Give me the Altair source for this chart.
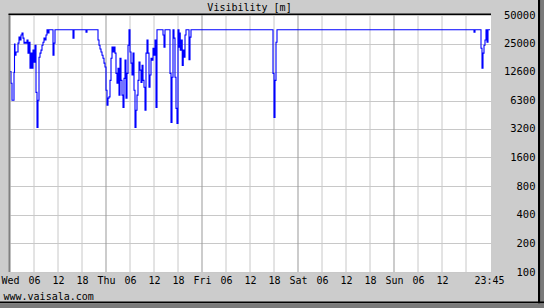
import altair as alt
import pandas as pd

# hours since Wed 00:00, visibility in metres (step series)
hours = [0, 0.25, 0.5, 1.0, 1.125, 1.25, 1.5, 2.0, 2.25, 2.5, 2.75, 3.0, 3.25, 3.5, 3.75,
         4.0, 4.25, 4.5, 4.75, 5.0, 5.25, 5.5, 5.75, 6.0, 6.25, 6.5, 6.75, 7.0, 7.25, 7.5,
         7.75, 8.0, 8.25, 8.5, 8.75, 9.0, 9.25, 9.5, 9.75, 10.75, 11.0, 11.25,
         15.75, 16.0, 19.0, 19.25,
         22.0, 22.25, 22.5, 22.75, 23.0, 23.25, 23.5, 23.75, 24.0, 24.25, 24.5, 24.75,
         25.0, 25.25, 25.5, 25.75, 26.0, 26.25, 26.5, 26.75, 27.0, 27.25, 27.5, 27.75,
         28.0, 28.25, 28.5, 28.75, 29.0, 29.25, 29.5, 29.75, 30.0, 30.25, 30.5, 30.75,
         31.0, 31.25, 31.5, 31.75, 32.0, 32.25, 32.5, 32.75, 33.0, 33.25, 33.5, 33.75,
         34.0, 34.25, 34.5, 34.75, 35.0, 35.25, 35.5, 35.75, 36.0, 36.25, 36.5, 36.75,
         38.25, 38.5, 38.75,
         40.0, 40.25, 40.5, 40.75, 41.0, 41.25, 41.5, 41.75, 42.0,
         42.25, 42.44, 42.56, 42.81, 43.06, 43.31, 43.5, 43.75, 44.0,
         44.75, 45.0, 45.25,
         65.75, 66.0, 66.25, 66.5, 66.75,
         116.0, 116.25,
         117.75, 118.0, 118.25, 118.5, 118.75, 119.0, 119.25, 119.5, 119.75, 120.0]
visibility = [12700, 9600, 6360, 12500, 24700, 18900, 20400, 25300, 29300, 27300, 30800, 32300, 28600, 25300, 25900,
              25300, 27300, 19900, 25900, 13800, 19900, 13800, 21400, 16000, 24100, 7700, 3300, 6360, 18000, 19900,
              21400, 24100, 25900, 28600, 27300, 30800, 35000, 32300, 35000, 18900, 25300, 35000,
              28600, 35000, 33000, 35000,
              27300, 24100, 22000, 20400, 18900, 17600, 15600, 14200, 8100, 5630, 6700, 6900,
              10300, 17600, 23000, 20400, 23000, 19900, 12200, 9600, 13800, 7200, 17600, 10300,
              7200, 5360, 10800, 16800, 6700, 12200, 24100, 35000, 20400, 15600, 11700, 19900,
              8100, 3300, 4990, 7200, 10300, 16000, 13200, 9800, 14800, 10300, 8700, 4990,
              19900, 27300, 19900, 8700, 11700, 17600, 16800, 22400, 18900, 27300, 5360, 35000,
              30800, 23000, 35000,
              12200, 3720, 11100, 35000, 28600, 11100, 5230, 3640, 35000,
              23000, 32300, 21400, 27300, 14800, 21400, 18000, 30800, 35000,
              17000, 29300, 35000,
              12200, 4210, 10300, 25900, 35000,
              33000, 35000,
              22400, 13800, 19900, 24100, 27300, 35000, 25900, 35000, 35000, 35000]

tick_hours = [0, 6, 12, 18, 24, 30, 36, 42, 48, 54, 60, 66, 72, 78, 84, 90, 96, 102, 108, 119.75]
tick_labels = ["Wed", "06", "12", "18", "Thu", "06", "12", "18", "Fri", "06", "12", "18",
               "Sat", "06", "12", "18", "Sun", "06", "12", "23:45"]
grid_hours = [6, 12, 18, 30, 36, 42, 54, 60, 66, 78, 84, 90, 102, 108, 114]
day_hours = [24, 48, 72, 96]
y_ticks = [100, 200, 400, 800, 1600, 3200, 6300, 12600, 25000, 50000]
title_text = "Visibility [m]"
footer_text = "www.vaisala.com"

MONO = "DejaVu Sans Mono"
W, H = 481, 257

df = pd.DataFrame({"h": hours, "v": visibility})

label_expr = ("[" + ",".join(f"'{l}'" for l in tick_labels) + "][indexof(["
              + ",".join(str(h) for h in tick_hours) + "], datum.value)]")

xs = alt.Scale(domain=[0, 120.25], nice=False, zero=False)
ys = alt.Scale(type="log", domain=[100, 50000], nice=False)

x_axis = alt.Axis(values=tick_hours, labelExpr=label_expr, grid=False, domain=False, ticks=False,
                  labelPadding=3, labelFlush=False, labelOverlap=False, labelFont=MONO,
                  labelFontSize=10, labelColor="black",
                  title=footer_text, titleX=-7, titleY=27, titleAlign="left",
                  titleBaseline="alphabetic", titleFont=MONO, titleFontSize=10,
                  titleFontWeight="normal", titleColor="black")
x_enc = alt.X("h:Q", scale=xs, axis=x_axis)

grid_light = alt.Chart(pd.DataFrame({"h": grid_hours})).mark_rule(
    color="#c8c8c8", strokeWidth=1).encode(x=x_enc)
grid_day = alt.Chart(pd.DataFrame({"h": day_hours})).mark_rule(
    color="#999999", strokeWidth=1).encode(x=x_enc)

line = alt.Chart(df).mark_line(interpolate="step-after", color="#0000ff",
                               strokeWidth=1.1, clip=True).encode(
    x=x_enc,
    y=alt.Y("v:Q", scale=ys,
            axis=alt.Axis(orient="right", values=y_ticks, format="d", grid=True,
                          gridColor="#c8c8c8", gridWidth=1, domain=False, ticks=False,
                          labelPadding=44, labelAlign="right", labelFont=MONO,
                          labelFontSize=10.5, labelColor="black", title=None)),
)

one = alt.Data(values=[{}])


def box(color, x, x2, y, y2):
    return alt.Chart(one).mark_rect(color=color).encode(
        x=alt.value(x), x2=alt.value(x2), y=alt.value(y), y2=alt.value(y2))


frame_left = box("#808080", -1.5, 0.5, -1, H)
frame_top = box("#000000", -1.5, W, -1.5, 0)
shadow_r1 = box("#000000", 528, 530.5, -15, 293)
shadow_r2 = box("#7a7a7a", 530.5, 534, -15, 293)
shadow_b1 = box("#000000", -10, 534, 286.5, 288.3)
shadow_b2 = box("#7a7a7a", -10, 534, 288.3, 293)

title = alt.Chart(one).mark_text(font=MONO, fontSize=10, color="black", align="center",
                                 baseline="alphabetic", text=title_text).encode(
    x=alt.value(239.5), y=alt.value(-4.5))

chart = alt.layer(grid_light, grid_day, line, frame_left, frame_top,
                  shadow_r1, shadow_r2, shadow_b1, shadow_b2, title).properties(
    width=W, height=H,
    background="#cccccc",
    padding={"left": 10, "top": 15, "right": 53, "bottom": 36},
    autosize=alt.AutoSizeParams(type="none"),
).configure_view(strokeWidth=0, fill="white")

chart.save("out.html", embed_options={"renderer": "svg", "actions": False})
